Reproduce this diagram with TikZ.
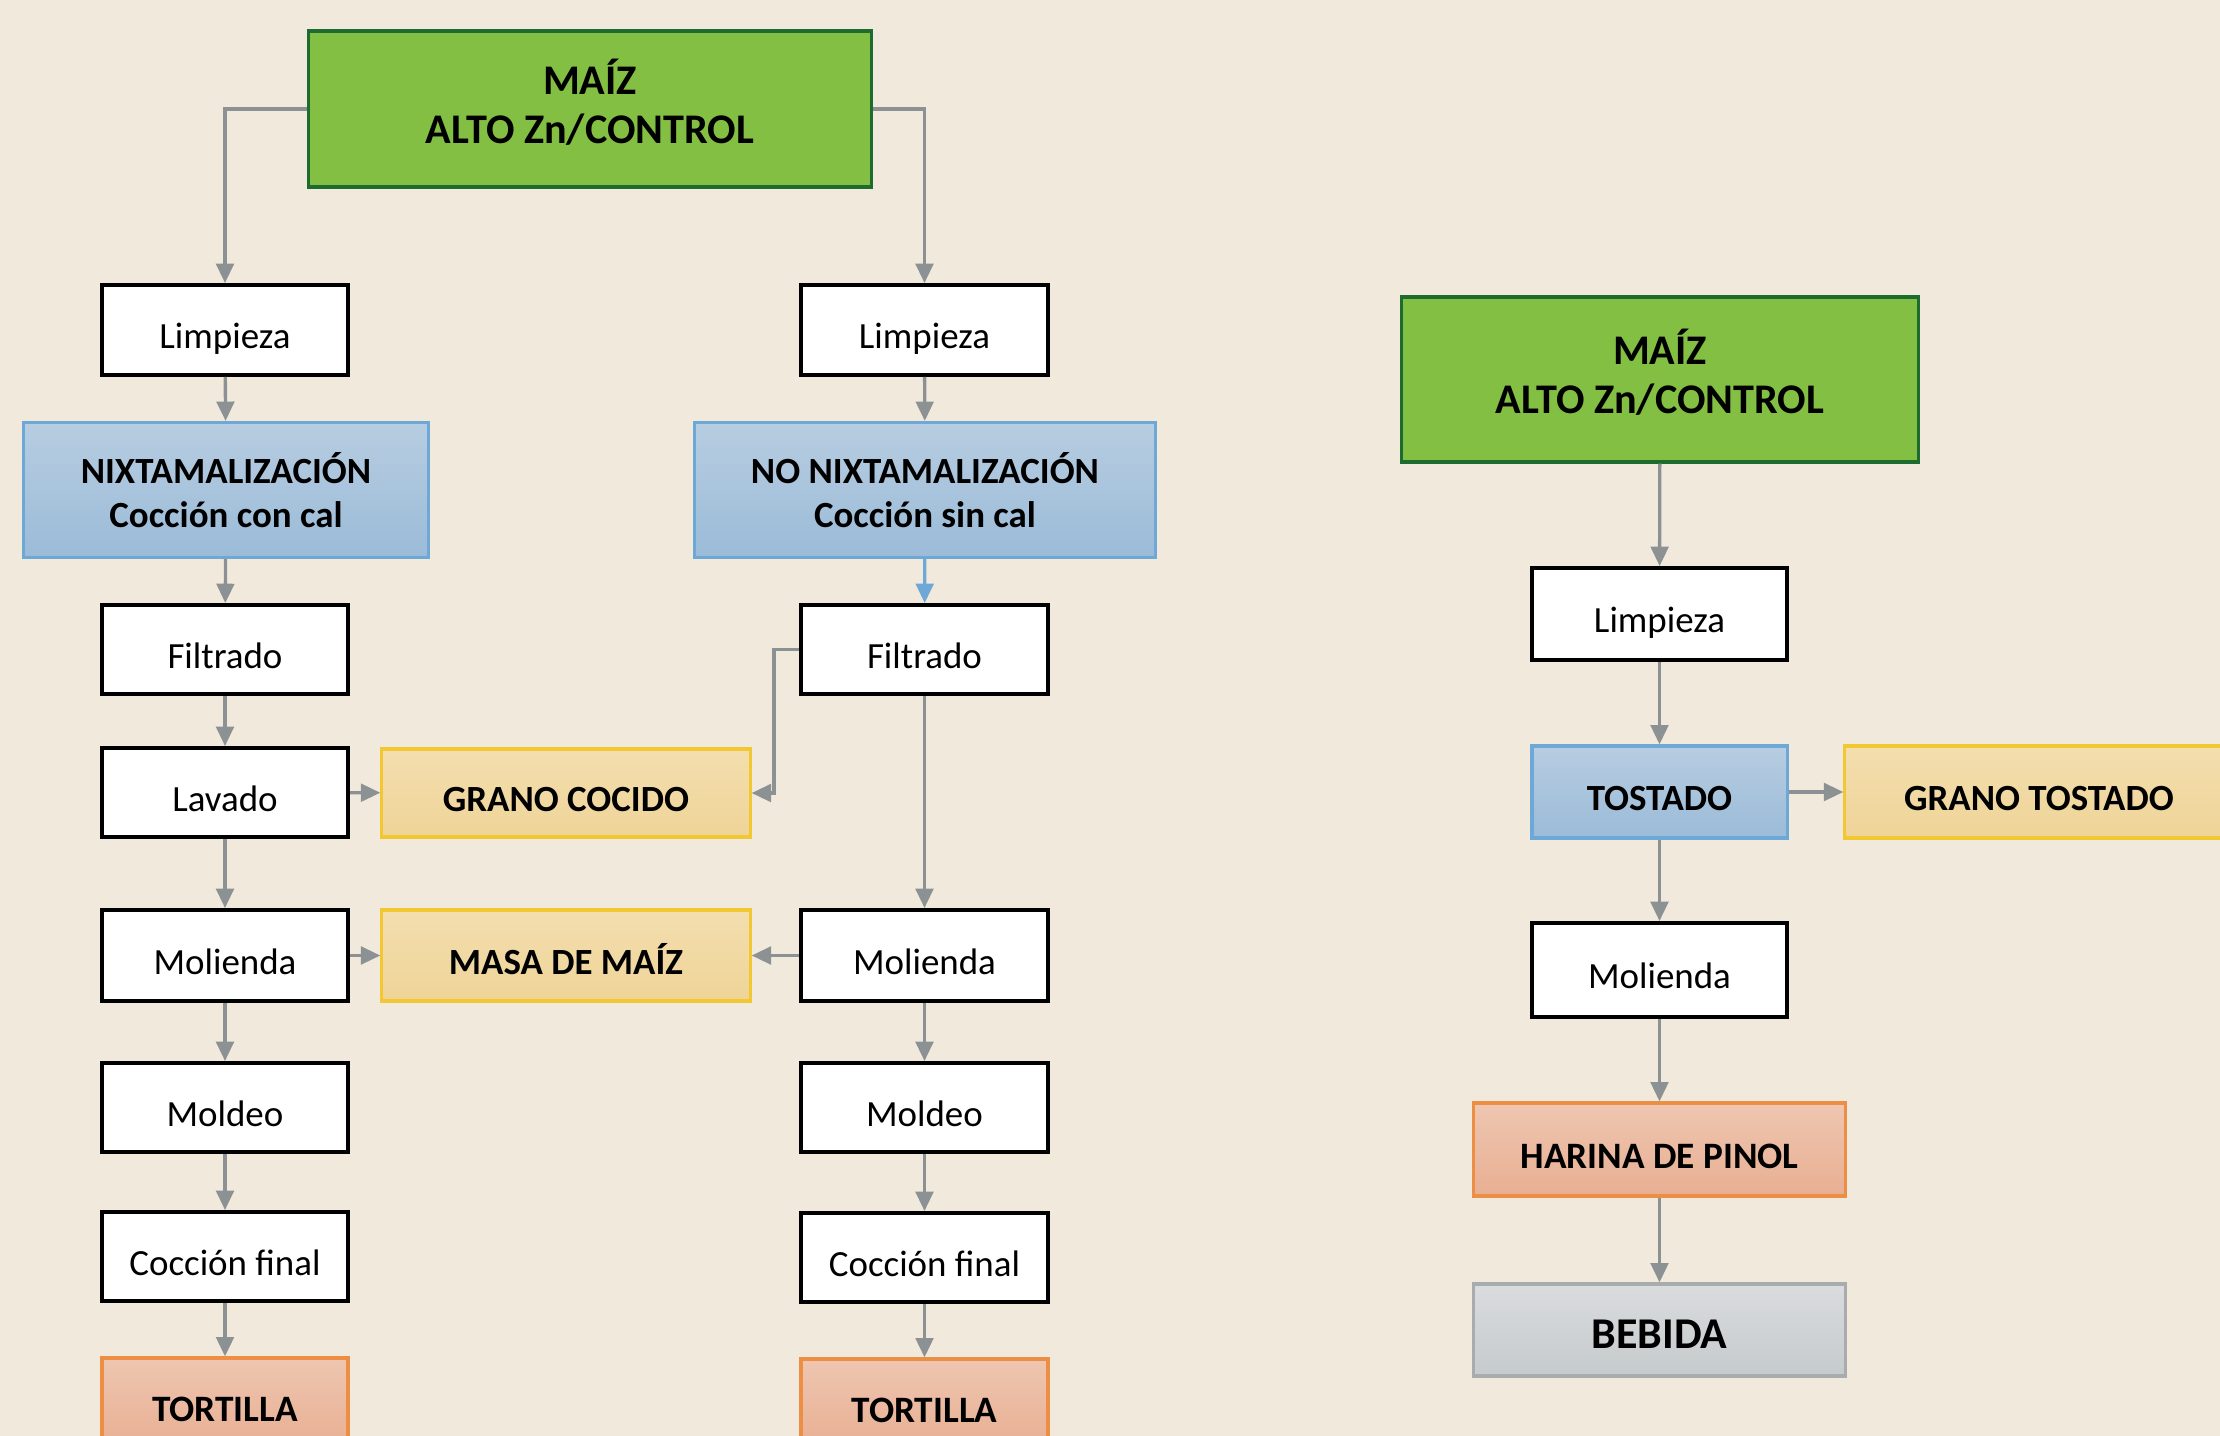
\documentclass[tikz,border=0pt]{standalone}
\usepackage{fontspec}
\setmainfont{Carlito}
\usetikzlibrary{arrows.meta}
\definecolor{bg}{HTML}{F1E9DC}
\definecolor{grn}{HTML}{82BF42}
\definecolor{grnd}{HTML}{1E6B2F}
\definecolor{arr}{HTML}{8C9293}
\definecolor{bluet}{HTML}{B7CDE1}
\definecolor{blueb}{HTML}{9BBBD8}
\definecolor{blued}{HTML}{6EA8D6}
\definecolor{yelt}{HTML}{F3DEAE}
\definecolor{yelb}{HTML}{EFD498}
\definecolor{yeld}{HTML}{F2C832}
\definecolor{orat}{HTML}{EEC6B0}
\definecolor{orab}{HTML}{E8AF92}
\definecolor{orad}{HTML}{EC8F45}
\definecolor{grat}{HTML}{DADCDE}
\definecolor{grab}{HTML}{C5CACB}
\definecolor{grad}{HTML}{A8ACAE}
\tikzset{
  base/.style={rectangle, inner sep=0pt, align=center},
  one/.style={text height=10.6pt, text depth=0pt},
  wbox/.style={base, one, draw=black, line width=1.1pt, fill=white, font=\fontsize{10.5}{13}\selectfont},
  gbox/.style={base, draw=grnd, line width=0.9pt, fill=grn, text height=19.5pt, text depth=0pt, font=\fontsize{12}{14}\selectfont\bfseries},
  bbox/.style={base, draw=blued, line width=0.9pt, top color=bluet, bottom color=blueb, font=\fontsize{10.5}{12.5}\selectfont\bfseries},
  ybox/.style={base, one, draw=yeld, line width=0.9pt, top color=yelt, bottom color=yelb, font=\fontsize{10.5}{13}\selectfont\bfseries},
  obox/.style={base, one, draw=orad, line width=0.9pt, top color=orat, bottom color=orab, font=\fontsize{10.6}{13}\selectfont\bfseries},
  ebox/.style={base, one, draw=grad, line width=0.9pt, top color=grat, bottom color=grab, font=\fontsize{12.5}{15}\selectfont\bfseries},
  conn/.style={draw=arr, line width=0.95pt, -{Triangle[length=5.5pt,width=5pt]}},
  bconn/.style={draw=blued, line width=0.95pt, -{Triangle[length=5.5pt,width=5pt]}}
}
\begin{document}
\begin{tikzpicture}[x=0.01cm,y=-0.01cm]
\path[use as bounding box, fill=bg] (0,0) rectangle (2220,1436);
\clip (0,0) rectangle (2220,1436);
% left/middle tree
\node[gbox, minimum width=5.62cm, minimum height=1.56cm] (g1) at (590,109) {MAÍZ\\ALTO Zn/CONTROL};
\node[wbox, minimum width=2.46cm, minimum height=0.90cm] (l1) at (225,330) {Limpieza};
\node[bbox, minimum width=4.04cm, minimum height=1.35cm] (nx) at (226,490) {NIXTAMALIZACIÓN\\Cocción con cal};
\node[wbox, minimum width=2.46cm, minimum height=0.89cm] (f1) at (225,649.5) {Filtrado};
\node[wbox, minimum width=2.46cm, minimum height=0.89cm] (lv) at (225,792.5) {Lavado};
\node[ybox, minimum width=3.68cm, minimum height=0.88cm] (gc) at (566,793) {GRANO COCIDO};
\node[wbox, minimum width=2.46cm, minimum height=0.91cm] (mo1) at (225,955.5) {Molienda};
\node[ybox, minimum width=3.68cm, minimum height=0.91cm] (ms) at (566,955.5) {MASA DE MAÍZ};
\node[wbox, minimum width=2.46cm, minimum height=0.89cm] (md1) at (225,1107.5) {Moldeo};
\node[wbox, minimum width=2.46cm, minimum height=0.89cm] (cf1) at (225,1256.5) {Cocción final};
\node[obox, minimum width=2.46cm, minimum height=0.90cm] (t1) at (225,1403) {TORTILLA};
\node[wbox, minimum width=2.47cm, minimum height=0.90cm] (l2) at (924.5,330) {Limpieza};
\node[bbox, minimum width=4.60cm, minimum height=1.35cm] (nn) at (925,490) {NO NIXTAMALIZACIÓN\\Cocción sin cal};
\node[wbox, minimum width=2.47cm, minimum height=0.89cm] (f2) at (924.5,649.5) {Filtrado};
\node[wbox, minimum width=2.47cm, minimum height=0.91cm] (mo2) at (924.5,955.5) {Molienda};
\node[wbox, minimum width=2.47cm, minimum height=0.89cm] (md2) at (924.5,1107.5) {Moldeo};
\node[wbox, minimum width=2.47cm, minimum height=0.89cm] (cf2) at (924.5,1257.5) {Cocción final};
\node[obox, minimum width=2.47cm, minimum height=0.90cm] (t2) at (924.5,1404) {TORTILLA};
% right tree
\node[gbox, minimum width=5.16cm, minimum height=1.65cm] (g3) at (1660,379.5) {MAÍZ\\ALTO Zn/CONTROL};
\node[wbox, minimum width=2.55cm, minimum height=0.92cm] (l3) at (1659.5,614) {Limpieza};
\node[bbox, one, minimum width=2.55cm, minimum height=0.92cm] (ts) at (1659.5,792) {TOSTADO};
\node[ybox, minimum width=3.88cm, minimum height=0.92cm] (gt) at (2039,792) {GRANO TOSTADO};
\node[wbox, minimum width=2.55cm, minimum height=0.94cm] (mo3) at (1659.5,970) {Molienda};
\node[obox, minimum width=3.71cm, minimum height=0.93cm] (hp) at (1659.5,1149.5) {HARINA DE PINOL};
\node[ebox, minimum width=3.71cm, minimum height=0.92cm] (bb) at (1659.5,1330) {BEBIDA};
% connectors
\draw[conn] (g1.west) -| (l1.north);
\draw[conn] (g1.east) -| (l2.north);
\draw[conn] (l1) -- (nx);
\draw[conn] (nx) -- (f1);
\draw[conn] (f1) -- (lv);
\draw[conn] (lv) -- (gc);
\draw[conn] (lv) -- (mo1);
\draw[conn] (mo1) -- (ms);
\draw[conn] (mo1) -- (md1);
\draw[conn] (md1) -- (cf1);
\draw[conn] (cf1) -- (t1);
\draw[conn] (l2) -- (nn);
\draw[bconn] (nn) -- (f2);
\draw[conn] (f2.west) -- ++(-25,0) |- (gc.east);
\draw[conn] (f2) -- (mo2);
\draw[conn] (mo2) -- (ms);
\draw[conn] (mo2) -- (md2);
\draw[conn] (md2) -- (cf2);
\draw[conn] (cf2) -- (t2);
\draw[conn] (g3) -- (l3);
\draw[conn] (l3) -- (ts);
\draw[conn] (ts) -- (gt);
\draw[conn] (ts) -- (mo3);
\draw[conn] (mo3) -- (hp);
\draw[conn] (hp) -- (bb);
\end{tikzpicture}
\end{document}
